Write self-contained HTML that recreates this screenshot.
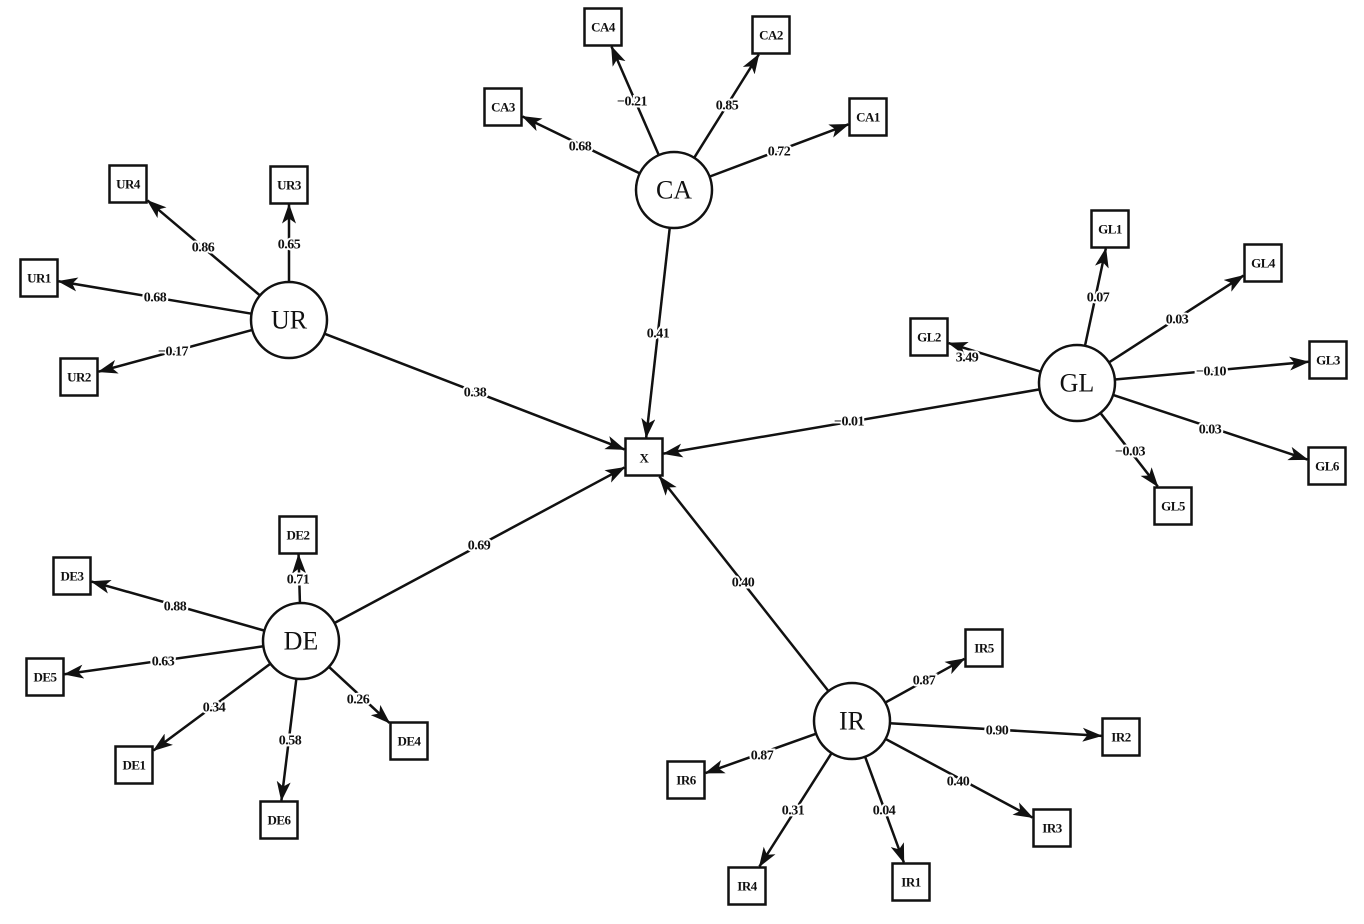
<!DOCTYPE html>
<html><head><meta charset="utf-8"><style>
html,body{margin:0;padding:0;background:#fff;width:1364px;height:924px;overflow:hidden}
svg{display:block}
text{font-family:"Liberation Serif",serif;font-weight:bold;fill:#111;text-anchor:middle;dominant-baseline:central}
.l{font-size:14px;stroke:#fff;stroke-width:4px;paint-order:stroke;letter-spacing:-0.5px}
.b{font-size:13px;letter-spacing:-0.5px}
.c{font-size:26px;font-weight:normal}
</style></head><body>
<svg id="s" width="1364" height="924" viewBox="0 0 1364 924">
<defs><marker id="a" viewBox="0 0 20 14" refX="19" refY="7" markerWidth="20" markerHeight="14" markerUnits="userSpaceOnUse" orient="auto"><path d="M0,0 L20,7 L0,14 L5,7z" fill="#111"/></marker></defs>
<g id="lines" stroke="#111" stroke-width="2.5" fill="none"></g>
<g id="shapes"></g>
<g id="labels">
<text class="l" x="632" y="102">−0.21</text><text class="l" x="727" y="106">0.85</text><text class="l" x="779" y="152">0.72</text><text class="l" x="580" y="147">0.68</text><text class="l" x="658" y="334">0.41</text>
<text class="l" x="203" y="248">0.86</text><text class="l" x="289" y="245">0.65</text><text class="l" x="155" y="298">0.68</text><text class="l" x="173" y="352">−0.17</text><text class="l" x="475" y="393">0.38</text>
<text class="l" x="1098" y="298">0.07</text><text class="l" x="1177" y="320">0.03</text><text class="l" x="967" y="358">3.49</text><text class="l" x="1211" y="372">−0.10</text><text class="l" x="1210" y="430">0.03</text><text class="l" x="1130" y="452">−0.03</text><text class="l" x="849" y="422">−0.01</text>
<text class="l" x="298" y="580">0.71</text><text class="l" x="175" y="607">0.88</text><text class="l" x="163" y="662">0.63</text><text class="l" x="214" y="708">0.34</text><text class="l" x="290" y="741">0.58</text><text class="l" x="358" y="700">0.26</text><text class="l" x="479" y="546">0.69</text>
<text class="l" x="743" y="583">0.40</text><text class="l" x="924" y="681">0.87</text><text class="l" x="997" y="731">0.90</text><text class="l" x="762" y="756">0.87</text><text class="l" x="958" y="782">0.40</text><text class="l" x="793" y="811">0.31</text><text class="l" x="884" y="811">0.04</text>
</g>
<g id="names">
<text class="c" x="674" y="190">CA</text><text class="c" x="289" y="320">UR</text><text class="c" x="1077" y="383">GL</text><text class="c" x="301" y="641">DE</text><text class="c" x="852" y="721">IR</text>
<text class="b" x="644" y="458">X</text>
<text class="b" x="603" y="27">CA4</text><text class="b" x="771" y="35">CA2</text><text class="b" x="868" y="117">CA1</text><text class="b" x="503" y="107">CA3</text>
<text class="b" x="128" y="184">UR4</text><text class="b" x="289" y="185">UR3</text><text class="b" x="39" y="278">UR1</text><text class="b" x="79" y="377">UR2</text>
<text class="b" x="1110" y="229">GL1</text><text class="b" x="1263" y="263">GL4</text><text class="b" x="929" y="337">GL2</text><text class="b" x="1328" y="360">GL3</text><text class="b" x="1327" y="466">GL6</text><text class="b" x="1173" y="506">GL5</text>
<text class="b" x="298" y="535">DE2</text><text class="b" x="72" y="576">DE3</text><text class="b" x="45" y="677">DE5</text><text class="b" x="134" y="765">DE1</text><text class="b" x="409" y="741">DE4</text><text class="b" x="279" y="820">DE6</text>
<text class="b" x="984" y="648">IR5</text><text class="b" x="1121" y="737">IR2</text><text class="b" x="686" y="780">IR6</text><text class="b" x="1052" y="828">IR3</text><text class="b" x="747" y="886">IR4</text><text class="b" x="911" y="882">IR1</text>
</g>
</svg>
<script>
var C={CA:[674,190],UR:[289,320],GL:[1077,383],DE:[301,641],IR:[852,721]};
var B={X:[644,457],CA4:[603,27],CA2:[771,35],CA1:[868,117],CA3:[503,107],UR4:[128,184],UR3:[289,185],UR1:[39,278],UR2:[79,377],GL1:[1110,229],GL4:[1263,263],GL2:[929,337],GL3:[1328,360],GL6:[1327,466],GL5:[1173,506],DE2:[298,535],DE3:[72,576],DE5:[45,677],DE1:[134,765],DE4:[409,741],DE6:[279,820],IR5:[984,648],IR2:[1121,737],IR6:[686,780],IR3:[1052,828],IR4:[747,886],IR1:[911,882]};
var ns="http://www.w3.org/2000/svg",R=38,H=19.5;
var L=document.getElementById('lines'),S=document.getElementById('shapes');
function el(t,a,p){var e=document.createElementNS(ns,t);for(var k in a)e.setAttribute(k,a[k]);p.appendChild(e);}
for(var k in B){if(k=='X')continue;draw(C[k.slice(0,2)],B[k]);}
for(var k in C)draw(C[k],B.X);
function draw(c,b){var dx=b[0]-c[0],dy=b[1]-c[1],d=Math.hypot(dx,dy);
 var x1=c[0]+dx/d*R,y1=c[1]+dy/d*R;var t=H/Math.max(Math.abs(dx),Math.abs(dy));
 var x2=b[0]-dx*t,y2=b[1]-dy*t;
 el('line',{x1:x1,y1:y1,x2:x2,y2:y2,'marker-end':'url(#a)'},L);}
for(var k in C)el('circle',{cx:C[k][0],cy:C[k][1],r:R,fill:'#fff',stroke:'#111','stroke-width':2.5},S);
for(var k in B)el('rect',{x:B[k][0]-H+1,y:B[k][1]-H+1,width:2*H-2,height:2*H-2,fill:'#fff',stroke:'#111','stroke-width':2.5},S);
</script>
</body></html>
